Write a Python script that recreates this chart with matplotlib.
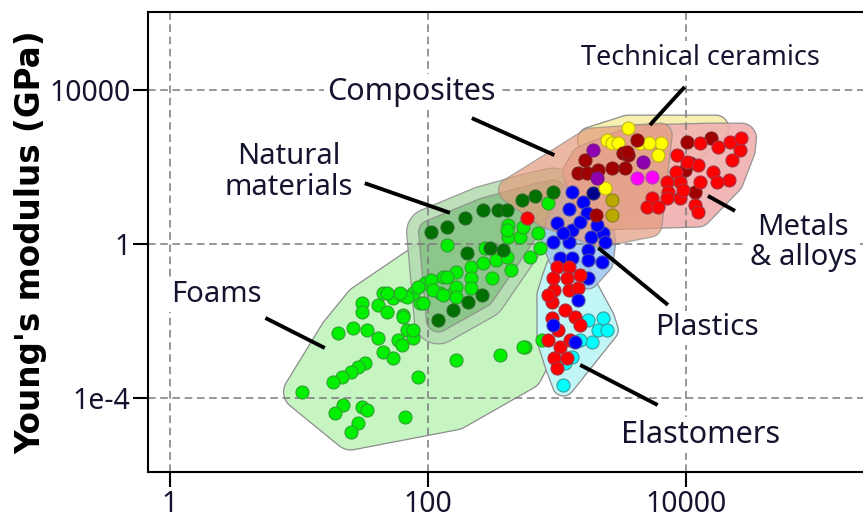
import numpy as np
import matplotlib
matplotlib.use("Agg")
import matplotlib.pyplot as plt
from matplotlib.patches import Polygon

# (log10 density, log10 Young's modulus)
foams = [
    (1.02, -3.84), (1.30, -2.31), (1.42, -2.18), (1.49, -1.53), (1.49, -1.77),
    (1.61, -1.58), (1.65, -1.27), (1.73, -1.40), (1.80, -1.32), (1.81, -1.84),
    (1.53, -2.23), (1.61, -2.44), (1.65, -2.81), (1.73, -2.96), (1.77, -2.49),
    (1.84, -2.23), (1.88, -2.44), (1.80, -2.62), (1.51, -3.09), (1.46, -3.19),
    (1.40, -3.32), (1.33, -3.45), (1.26, -3.58), (1.92, -3.45), (1.34, -4.18),
    (1.28, -4.39), (1.49, -4.23), (1.53, -4.31), (1.46, -4.65), (1.40, -4.88),
    (1.82, -4.49), (2.22, -3.01), (2.56, -2.88), (2.75, -2.68), (2.88, -2.49),
    (1.94, -1.53), (1.98, -1.01), (2.12, -0.86), (2.22, -0.73), (2.33, -0.60),
    (2.43, -0.49), (2.53, -0.42), (2.61, -0.34), (2.19, -1.27), (2.09, -1.27),
    (1.88, -1.27), (2.15, -0.03), (2.44, -0.10), (2.79, -0.34), (2.62, 0.18),
    (2.71, 0.18), (2.62, 0.49), (2.85, 0.29), (2.87, -0.10), (2.93, 1.07),
    (2.33, -0.88), (2.50, -0.88), (2.64, -0.68), (2.02, -0.94), (2.15, -0.86),
    (1.92, -1.12), (2.04, -1.20), (2.22, -1.12), (2.33, -1.14), (1.84, -1.38),
    (1.96, -1.53), (2.12, -1.32), (2.22, -1.38), (1.78, -1.27), (1.68, -1.27),
    (1.81, -1.90), (1.88, -2.23), (1.68, -1.77), (2.61, 0.36), (2.74, 0.44),
    (2.74, -2.68),
]
foams_range = [(2.21, -4.36), (2.75, -3.33)]

natural = [
    (2.02, 0.31), (2.15, 0.44), (2.29, 0.68), (2.43, 0.88), (2.54, 0.88),
    (2.61, 0.88), (2.73, 1.14), (2.83, 1.25), (2.97, 1.35), (2.30, -0.23),
    (2.48, -0.10), (2.58, -0.16), (2.42, -1.33), (2.31, -1.51), (2.19, -1.71),
    (2.08, -1.97),
]

plastics = [
    (3.12, 1.35), (3.20, 1.09), (3.09, 0.91), (3.23, 0.81), (3.00, 0.55),
    (3.12, 0.36), (3.26, 0.18), (3.36, 0.29), (2.97, 0.05), (3.09, 0.05),
    (3.37, 0.05), (3.24, -0.16), (3.02, -0.36), (3.12, -0.36), (3.24, -0.42),
    (3.35, -0.47), (3.24, -0.88), (3.05, 0.29), (3.18, 0.57), (3.31, 0.49),
]
plastics_navy = [(3.28, 1.33)]

elastomers_red = [
    (3.00, -0.60), (3.09, -0.60), (3.08, -0.88), (2.98, -1.19), (3.09, -1.19),
    (3.16, -1.14), (2.96, -1.51), (3.06, -1.71), (3.14, -1.90), (2.96, -1.92),
    (3.01, -2.23), (3.02, -2.68), (2.98, -2.96), (3.00, -3.22), (3.08, -2.96),
    (3.10, -2.49), (2.97, -0.88), (3.18, -0.81), (2.93, -1.32), (2.93, -2.49),
    (3.18, -2.10),
]
elastomers_cyan = [
    (3.24, -1.97), (3.36, -1.92), (3.32, -2.23), (3.27, -2.55), (3.18, -2.49),
    (3.39, -2.23), (3.05, -3.66), (3.12, -2.94), (3.06, -3.09),
]
elastomers_blue = [(3.16, -1.46), (3.14, -2.55), (2.97, -2.10)]
stray_red = [(2.77, 0.68)]

metals_red = [
    (4.11, 2.62), (4.25, 2.52), (4.34, 2.65), (4.36, 2.18), (4.33, 1.66),
    (4.21, 1.87), (4.24, 1.61), (4.09, 2.05), (4.01, 2.13), (4.11, 1.61),
    (3.93, 2.31), (3.92, 1.87), (3.85, 1.61), (3.95, 1.61), (3.86, 1.35),
    (3.74, 1.19), (3.85, 1.19), (3.95, 1.19), (3.70, 0.96), (3.78, 0.96),
    (4.07, 1.01), (4.09, 0.83), (3.98, 1.40), (4.42, 2.44), (4.43, 2.75),
]
metals_maroon = [
    (4.01, 2.65), (4.19, 2.75), (3.51, 2.36), (3.55, 2.31), (3.43, 1.97),
    (3.53, 1.97), (3.99, 1.92), (4.07, 1.35), (4.03, 2.10), (3.22, 2.18),
    (3.16, 1.84), (3.23, 1.84), (3.32, 1.92), (3.54, 2.39), (3.62, 2.70),
    (3.30, 0.75),
]
metals_purple = [(3.28, 2.44), (3.67, 2.13), (3.31, 1.71)]
metals_magenta = [(3.62, 1.71), (3.74, 1.74)]

ceramics = [
    (3.55, 3.01), (3.81, 2.62), (3.78, 2.31), (3.39, 2.70), (3.43, 2.62),
    (3.47, 2.62), (3.64, 2.62), (3.71, 2.62), (3.37, 1.45),
]
ceramics_olive = [(3.43, 1.14), (3.43, 0.75)]
ceramics_range = [(4.23, 3.01), (3.26, 2.70)]

composites_range = [
    (2.64, 1.40), (3.26, 2.70), (3.80, 2.83), (3.72, 0.49), (3.33, 0.23), (2.91, 0.75),
]

# label text, anchor, leader line (log10 units), font size
labels = [
    ("Technical ceramics", (4.11, 4.83), [(3.99, 4.08), (3.72, 3.09)], 19.5),
    ("Composites", (1.87, 3.95), [(2.34, 3.27), (2.98, 2.31)], 22),
    ("Natural\nmaterials", (0.92, 1.87), [(1.51, 1.58), (2.17, 0.81)], 21),
    ("Foams", (0.36, -1.30), [(0.74, -1.92), (1.20, -2.70)], 21),
    ("Metals\n& alloys", (4.91, 0.03), [(4.17, 1.25), (4.38, 0.86)], 21),
    ("Plastics", (4.16, -2.18), [(3.32, -0.10), (3.86, -1.58)], 21.5),
    ("Elastomers", (4.11, -4.96), [(3.18, -3.14), (3.78, -4.18)], 22),
]

TEXT = "#14142e"
plt.rcParams["font.family"] = ["Noto Sans", "DejaVu Sans"]

fig = plt.figure(figsize=(8.63, 5.2), dpi=100)
ax = fig.add_axes([148 / 863, 48 / 520, 731.5 / 863, 460 / 520])
ax.set_xscale("log")
ax.set_yscale("log")
ax.set_xlim(10 ** -0.1705, 10 ** 5.5)
ax.set_ylim(10 ** -5.92, 10 ** 6.026)


def lin(pairs):
    a = np.asarray(pairs, dtype=float)
    return 10 ** a[:, 0], 10 ** a[:, 1]


def convex_hull(pts):
    pts = sorted(map(tuple, pts))

    def cross(o, a, b):
        return (a[0] - o[0]) * (b[1] - o[1]) - (a[1] - o[1]) * (b[0] - o[0])

    lower, upper = [], []
    for p in pts:
        while len(lower) >= 2 and cross(lower[-2], lower[-1], p) <= 0:
            lower.pop()
        lower.append(p)
    for p in reversed(pts):
        while len(upper) >= 2 and cross(upper[-2], upper[-1], p) <= 0:
            upper.pop()
        upper.append(p)
    return np.array(lower[:-1] + upper[:-1])


def envelope(groups, radius, fc, alpha=1.0):
    x, y = lin([p for g in groups for p in g])
    disp = ax.transData.transform(np.column_stack([x, y]))
    t = np.linspace(0, 2 * np.pi, 40, endpoint=False)
    ring = (disp[:, None, :] + radius * np.stack([np.cos(t), np.sin(t)], -1)[None]).reshape(-1, 2)
    hull = ax.transData.inverted().transform(convex_hull(ring))
    ax.add_patch(Polygon(hull, closed=True, fc=fc, ec="#8c8c8c", lw=0.9,
                         alpha=alpha, zorder=1))


envelope([foams, foams_range], 18, "#c6f5c2")
envelope([natural], 24, "#b2dbb0", 0.85)
envelope([natural], 12, "#86c285", 0.85)
envelope([elastomers_red, elastomers_cyan, elastomers_blue], 11, "#c2f5f5")
envelope([plastics, plastics_navy], 11, "#9cc6f0", 0.85)
envelope([ceramics, ceramics_olive, ceramics_range], 13, "#f6efb0")
envelope([metals_red, metals_maroon], 15, "#f0b0b0", 0.9)
envelope([composites_range], 12, "#e39c7c", 0.7)

series = [
    (foams, "#00f000", "#30a030"),
    (natural, "#007000", "#2a6a2a"),
    (plastics, "#0000ff", "#4646a8"),
    (plastics_navy, "#00008c", "#303070"),
    (elastomers_cyan, "#00ffff", "#3a9a9a"),
    (elastomers_red, "#ff0000", "#a83040"),
    (elastomers_blue, "#0000ff", "#4646a8"),
    (stray_red, "#ff0000", "#a83040"),
    (ceramics, "#ffff00", "#c0b020"),
    (ceramics_olive, "#b8a800", "#888020"),
    (metals_maroon, "#a00000", "#802020"),
    (metals_purple, "#9000b0", "#702080"),
    (metals_magenta, "#ff00ff", "#b040b0"),
    (metals_red, "#ff0000", "#a83040"),
]
for pts, fc, ec in series:
    x, y = lin(pts)
    ax.scatter(x, y, s=88, c=fc, edgecolors=ec, linewidths=0.8, zorder=3)

for text, (tx, ty), line, size in labels:
    lx, ly = lin(line)
    ax.plot(lx, ly, color="black", lw=2.8, solid_capstyle="butt", zorder=4)
    ax.text(10 ** tx, 10 ** ty, text, ha="center", va="center", fontsize=size,
            color=TEXT, linespacing=1.05, zorder=5,
            bbox=dict(fc="white", ec="none", pad=2))

ax.set_xticks([1, 100, 10000])
ax.set_xticklabels(["1", "100", "10000"])
ax.set_yticks([1e-4, 1, 1e4])
ax.set_yticklabels(["1e-4", "1", "10000"])
ax.xaxis.set_minor_locator(matplotlib.ticker.NullLocator())
ax.yaxis.set_minor_locator(matplotlib.ticker.NullLocator())
ax.tick_params(length=10.8, width=1.5, pad=2, labelsize=20.5, labelcolor=TEXT)

ax.set_axisbelow("line")
ax.grid(True, color="#7a7a7a", lw=1.1, linestyle=(0, (5, 3)))
for s in ax.spines.values():
    s.set_linewidth(1.5)
    s.set_color("black")

ax.set_ylabel("Young's modulus (GPa)", fontsize=23.5, fontweight="bold",
              family="DejaVu Sans", color="black")
ax.yaxis.set_label_coords(-0.137, 0.5)

fig.savefig("out.png", dpi=100)
